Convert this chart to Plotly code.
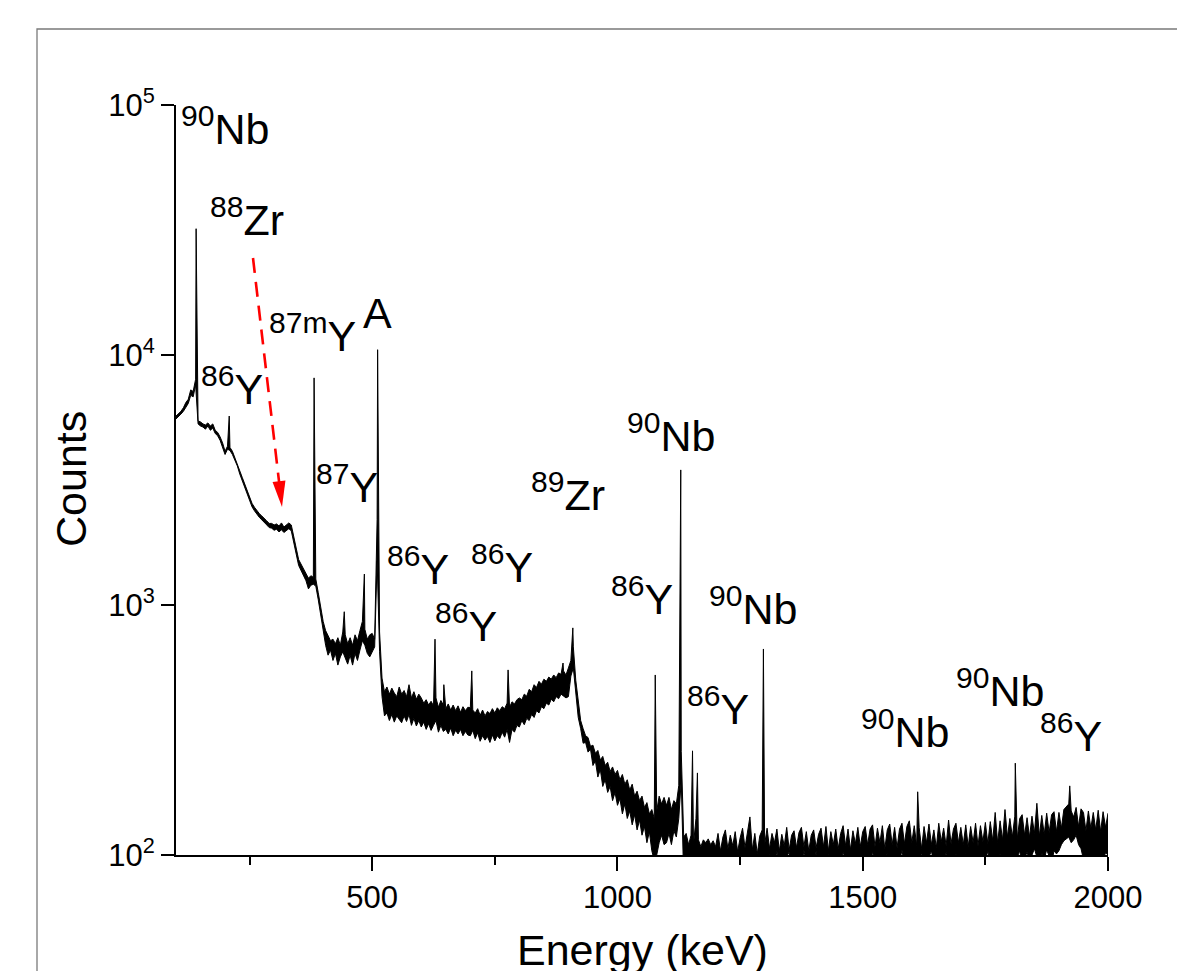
import plotly.graph_objects as go

# ---------------- data ----------------
# Spectrum on a 5 keV grid from 100 to 2000 keV.  For each grid point the
# lower and upper edge of the (noisy) trace was read off the picture.
grid_start_keV = 100
grid_step_keV = 5

lower_counts = [
    # 100-195
    5550, 5650, 5800, 5950, 6200, 6400, 6900, 6800, 7600, 5300,
    5200, 5150, 5050, 5200, 5000, 5100, 4850, 4750, 4550, 4300,
    # 200-295
    4000, 4200, 4150, 4000, 3800, 3600, 3340, 3140, 2960, 2770,
    2610, 2470, 2380, 2300, 2240, 2190, 2130, 2090, 2040, 2030,
    # 300-395
    1990, 2010, 1960, 2000, 1950, 1980, 2020, 1980, 1800, 1600,
    1440, 1380, 1320, 1250, 1160, 1200, 1210, 1190, 1050, 910,
    # 400-495
    780, 690, 630, 660, 600, 640, 575, 620, 650, 610,
    580, 630, 575, 640, 600, 660, 720, 690, 640, 620,
    # 500-595
    650, 680, 1500, 650, 430, 360, 370, 345, 365, 340,
    360, 350, 338, 360, 342, 365, 330, 352, 328, 345,
    # 600-695
    325, 340, 318, 335, 315, 330, 345, 310, 330, 312,
    318, 305, 322, 300, 315, 305, 318, 300, 312, 302,
    # 700-795
    300, 315, 292, 308, 285, 300, 288, 298, 282, 302,
    286, 300, 292, 310, 296, 318, 282, 318, 310, 330,
    # 800-895
    325, 345, 332, 352, 345, 365, 355, 378, 370, 392,
    385, 405, 398, 420, 410, 430, 422, 440, 432, 425,
    # 900-995
    430, 520, 560, 440, 355, 320, 280, 282, 258, 265,
    228, 238, 205, 220, 188, 200, 178, 188, 165, 178,
    # 1000-1095
    158, 168, 146, 160, 140, 150, 132, 145, 126, 138,
    120, 130, 112, 124, 104, 95, 100, 112, 120, 110,
    # 1100-1195
    112, 122, 110, 125, 118, 140, 200, 80, 80, 80,
    90, 85, 95, 85, 80, 85, 88, 85, 82, 85,
    # 1200-1295
    85, 80, 88, 82, 85, 80, 86, 83, 80, 88,
    84, 80, 86, 82, 90, 85, 82, 88, 84, 90,
    # 1300-1395
    95, 88, 102, 85, 90, 104, 86, 92, 80, 98,
    103, 88, 84, 100, 90, 86, 105, 92, 88, 96,
    # 1400-1495
    90, 104, 86, 92, 98, 84, 102, 90, 88, 100,
    92, 85, 103, 95, 88, 101, 90, 86, 97, 92,
    # 1500-1595
    88, 98, 92, 85, 104, 90, 95, 100, 86, 92,
    102, 88, 94, 99, 85, 93, 105, 90, 87, 96,
    # 1600-1695
    92, 100, 88, 95, 102, 90, 86, 98, 104, 91,
    87, 99, 94, 88, 103, 92, 96, 89, 101, 93,
    # 1700-1795
    96, 88, 102, 90, 95, 86, 100, 92, 98, 88,
    94, 104, 90, 87, 99, 93, 101, 89, 96, 92,
    # 1800-1895
    95, 100, 92, 98, 104, 90, 97, 103, 94, 100,
    106, 98, 92, 102, 96, 105, 99, 93, 104, 101,
    # 1900-2000
    104, 110, 114, 116, 118, 112, 115, 120, 110, 106,
    96, 100, 92, 98, 95, 101, 93, 99, 96, 102, 100,
]

upper_counts = [
    # 100-195
    5700, 5800, 5950, 6150, 6450, 6650, 7250, 7150, 8000, 5450,
    5400, 5300, 5250, 5350, 5200, 5300, 5000, 4900, 4700, 4450,
    # 200-295
    4120, 4320, 4270, 4120, 3900, 3700, 3440, 3240, 3050, 2860,
    2700, 2550, 2460, 2380, 2320, 2270, 2210, 2170, 2120, 2120,
    # 300-395
    2090, 2110, 2070, 2130, 2050, 2100, 2130, 2090, 1900, 1690,
    1520, 1460, 1400, 1330, 1280, 1310, 1290, 1270, 1120, 970,
    # 400-495
    860, 790, 750, 720, 730, 700, 740, 690, 780, 760,
    700, 740, 690, 760, 720, 790, 860, 800, 730, 760,
    # 500-595
    770, 730, 2200, 780, 510, 450, 470, 440, 465, 445,
    430, 470, 440, 455, 430, 480, 425, 450, 420, 440,
    # 600-695
    425, 405, 418, 398, 412, 395, 425, 390, 415, 398,
    385, 402, 380, 398, 378, 395, 372, 392, 378, 390,
    # 700-795
    388, 380, 370, 385, 362, 380, 360, 375, 368, 385,
    370, 388, 378, 392, 385, 405, 390, 410, 402, 418,
    # 800-895
    425, 418, 440, 432, 460, 450, 480, 468, 495, 482,
    505, 495, 515, 505, 525, 512, 535, 528, 545, 525,
    # 900-995
    560, 600, 680, 500, 405, 345, 320, 300, 295, 272,
    275, 255, 262, 240, 248, 228, 235, 216, 225, 210,
    # 1000-1095
    218, 200, 210, 192, 200, 182, 192, 172, 180, 165,
    172, 155, 162, 146, 152, 140, 150, 172, 160, 170,
    # 1100-1195
    158, 170, 152, 165, 160, 190, 260, 118, 122, 110,
    120, 110, 140, 115, 108, 115, 112, 116, 110, 114,
    # 1200-1295
    108, 122, 104, 118, 126, 106, 120, 109, 124, 103,
    117, 128, 107, 121, 142, 105, 122, 101, 119, 126,
    # 1300-1395
    110, 128, 106, 122, 112, 127, 104, 121, 109, 129,
    105, 120, 125, 107, 123, 129, 108, 124, 104, 120,
    # 1400-1495
    126, 107, 121, 128, 108, 130, 104, 124, 110, 127,
    106, 122, 131, 109, 127, 105, 125, 111, 129, 108,
    # 1500-1595
    124, 130, 110, 127, 132, 108, 128, 112, 131, 106,
    126, 133, 110, 129, 107, 127, 134, 111, 130, 137,
    # 1600-1695
    112, 131, 109, 129, 106, 130, 112, 133, 110, 126,
    107, 134, 113, 128, 109, 138, 111, 127, 134, 112,
    # 1700-1795
    129, 110, 132, 108, 130, 112, 134, 109, 131, 113,
    135, 111, 136, 114, 148, 112, 137, 115, 152, 118,
    # 1800-1895
    140, 118, 143, 116, 140, 145, 120, 141, 118, 143,
    122, 161, 119, 144, 121, 147, 123, 145, 149, 124,
    # 1900-2000
    148, 128, 152, 156, 160, 150, 142, 155, 130, 153,
    148, 125, 150, 128, 148, 126, 151, 124, 149, 129, 147,
]

# photopeak tops
peak_energy_keV = [141, 208.5, 381.5, 443, 484, 511, 628, 646, 703, 777,
                   889, 909, 1077, 1129, 1153, 1163, 1297.5, 1612, 1811, 1922]
peak_counts = [32000, 5700, 8100, 940, 1330, 10500, 730, 480, 545, 550,
               586, 810, 525, 3470, 261, 213, 667, 179, 233, 189]

# tick values / labels
x_tick_values = [500, 1000, 1500, 2000]
x_minor_tick_values = [250, 750, 1250, 1750]
y_tick_values = [100, 1000, 10000, 100000]
y_tick_text = ["10<sup>2</sup>", "10<sup>3</sup>", "10<sup>4</sup>", "10<sup>5</sup>"]

# peak labels
label_texts = ["<sup>90</sup>Nb", "<sup>88</sup>Zr", "<sup>87m</sup>Y", "A",
               "<sup>86</sup>Y", "<sup>87</sup>Y", "<sup>86</sup>Y", "<sup>86</sup>Y",
               "<sup>86</sup>Y", "<sup>89</sup>Zr", "<sup>90</sup>Nb", "<sup>86</sup>Y",
               "<sup>90</sup>Nb", "<sup>86</sup>Y", "<sup>90</sup>Nb", "<sup>90</sup>Nb",
               "<sup>86</sup>Y"]

# ---------------- build series ----------------
grid_energy = [grid_start_keV + i * grid_step_keV for i in range(len(lower_counts))]
upper_pts = list(zip(grid_energy, upper_counts)) + list(zip(peak_energy_keV, peak_counts))
upper_pts.sort(key=lambda p: p[0])
upper_x = [p[0] for p in upper_pts]
upper_y = [p[1] for p in upper_pts]

# ---------------- layout geometry ----------------
# page pixels of the plot area in the target; the page body has an 8 px margin
OFF = 8
W, H = 1185 - OFF, 971 - OFF
PL, PR, PT, PB = 176, 1108, 105, 855        # page px of plot area
L, R, T, B = PL - OFF, PR - OFF, PT - OFF, PB - OFF


def px_x(px):
    return (px - PL) / (PR - PL)


def px_y(py):
    return (PB - py) / (PB - PT)


FONT = "Liberation Sans, Arial, Helvetica, sans-serif"

fig = go.Figure()
fig.add_trace(go.Scatter(x=grid_energy, y=lower_counts, mode="lines",
                         line=dict(color="black", width=1), showlegend=False,
                         hoverinfo="skip"))
fig.add_trace(go.Scatter(x=upper_x, y=upper_y, mode="lines",
                         line=dict(color="black", width=1), fill="tonexty",
                         fillcolor="black", showlegend=False, hoverinfo="skip"))

# label positions in page px: (center x, baseline y)
label_pos = [(224.5, 145), (246.5, 236), (312.5, 352), (377.5, 329),
             (231.5, 405), (347, 503), (417.5, 585), (502, 583),
             (465.5, 642), (567.5, 511), (670.5, 452), (641.5, 615),
             (752.5, 625), (718, 725), (904.5, 748), (1000, 707),
             (1071, 752)]
LABEL_SIZE = 43
annotations = []
for txt, (cx, base) in zip(label_texts, label_pos):
    annotations.append(dict(text=txt, xref="paper", yref="paper",
                            x=px_x(cx), y=px_y(base + 0.212 * LABEL_SIZE + 1),
                            xanchor="center", yanchor="bottom", showarrow=False,
                            font=dict(family=FONT, size=LABEL_SIZE, color="black")))

# axis titles
TITLE_SIZE = 43
annotations.append(dict(text="Counts", xref="paper", yref="paper",
                        x=px_x(71), y=px_y(479), xanchor="center", yanchor="middle",
                        textangle=-90, showarrow=False,
                        font=dict(family=FONT, size=TITLE_SIZE, color="black")))
annotations.append(dict(text="Energy (keV)", xref="paper", yref="paper",
                        x=px_x(642), y=px_y(966 + 0.212 * TITLE_SIZE + 1),
                        xanchor="center", yanchor="bottom", showarrow=False,
                        font=dict(family=FONT, size=TITLE_SIZE, color="black")))

# red dashed arrow (page px)
ax0, ay0 = 253, 258
tipx, tipy = 282, 507
head_len, head_half = 26, 6.5
dx, dy = tipx - ax0, tipy - ay0
ln = (dx * dx + dy * dy) ** 0.5
ux, uy = dx / ln, dy / ln
bx, by = tipx - ux * head_len, tipy - uy * head_len
c1 = (bx - uy * head_half, by + ux * head_half)
c2 = (bx + uy * head_half, by - ux * head_half)
path = "M {:.5f},{:.5f} L {:.5f},{:.5f} L {:.5f},{:.5f} Z".format(
    px_x(tipx), px_y(tipy), px_x(c1[0]), px_y(c1[1]), px_x(c2[0]), px_y(c2[1]))

shapes = [
    dict(type="rect", xref="paper", yref="paper",
         x0=px_x(37), y0=px_y(29), x1=px_x(1210), y1=px_y(1010),
         line=dict(color="#7a7a7a", width=1.3), fillcolor="rgba(0,0,0,0)", layer="below"),
    dict(type="line", xref="paper", yref="paper",
         x0=px_x(ax0), y0=px_y(ay0), x1=px_x(bx + ux * 2), y1=px_y(by + uy * 2),
         line=dict(color="#ff0000", width=2.6, dash="15px,9px")),
    dict(type="path", xref="paper", yref="paper", path=path,
         fillcolor="#ff0000", line=dict(width=0)),
]

fig.update_layout(
    width=W, height=H,
    margin=dict(l=L, r=W - R, t=T, b=H - B, pad=0),
    paper_bgcolor="white", plot_bgcolor="white",
    font=dict(family=FONT, color="black"),
    annotations=annotations,
    shapes=shapes,
    xaxis=dict(range=[100, 2000], tickvals=x_tick_values,
               ticks="outside", ticklen=14, tickwidth=2, tickcolor="black",
               showline=True, linewidth=2, linecolor="black",
               showgrid=False, zeroline=False, mirror=False,
               tickfont=dict(family=FONT, size=31, color="black"),
               ticklabelstandoff=0,
               minor=dict(tickvals=x_minor_tick_values, ticks="outside", ticklen=8,
                          tickwidth=2, tickcolor="black", showgrid=False)),
    yaxis=dict(type="log", range=[2, 5], tickvals=y_tick_values, ticktext=y_tick_text,
               ticks="outside", ticklen=13, tickwidth=2, tickcolor="black",
               showline=True, linewidth=2, linecolor="black",
               showgrid=False, zeroline=False, mirror=False,
               tickfont=dict(family=FONT, size=31, color="black"),
               ticklabelstandoff=0),
)

fig.write_html("out.html")
